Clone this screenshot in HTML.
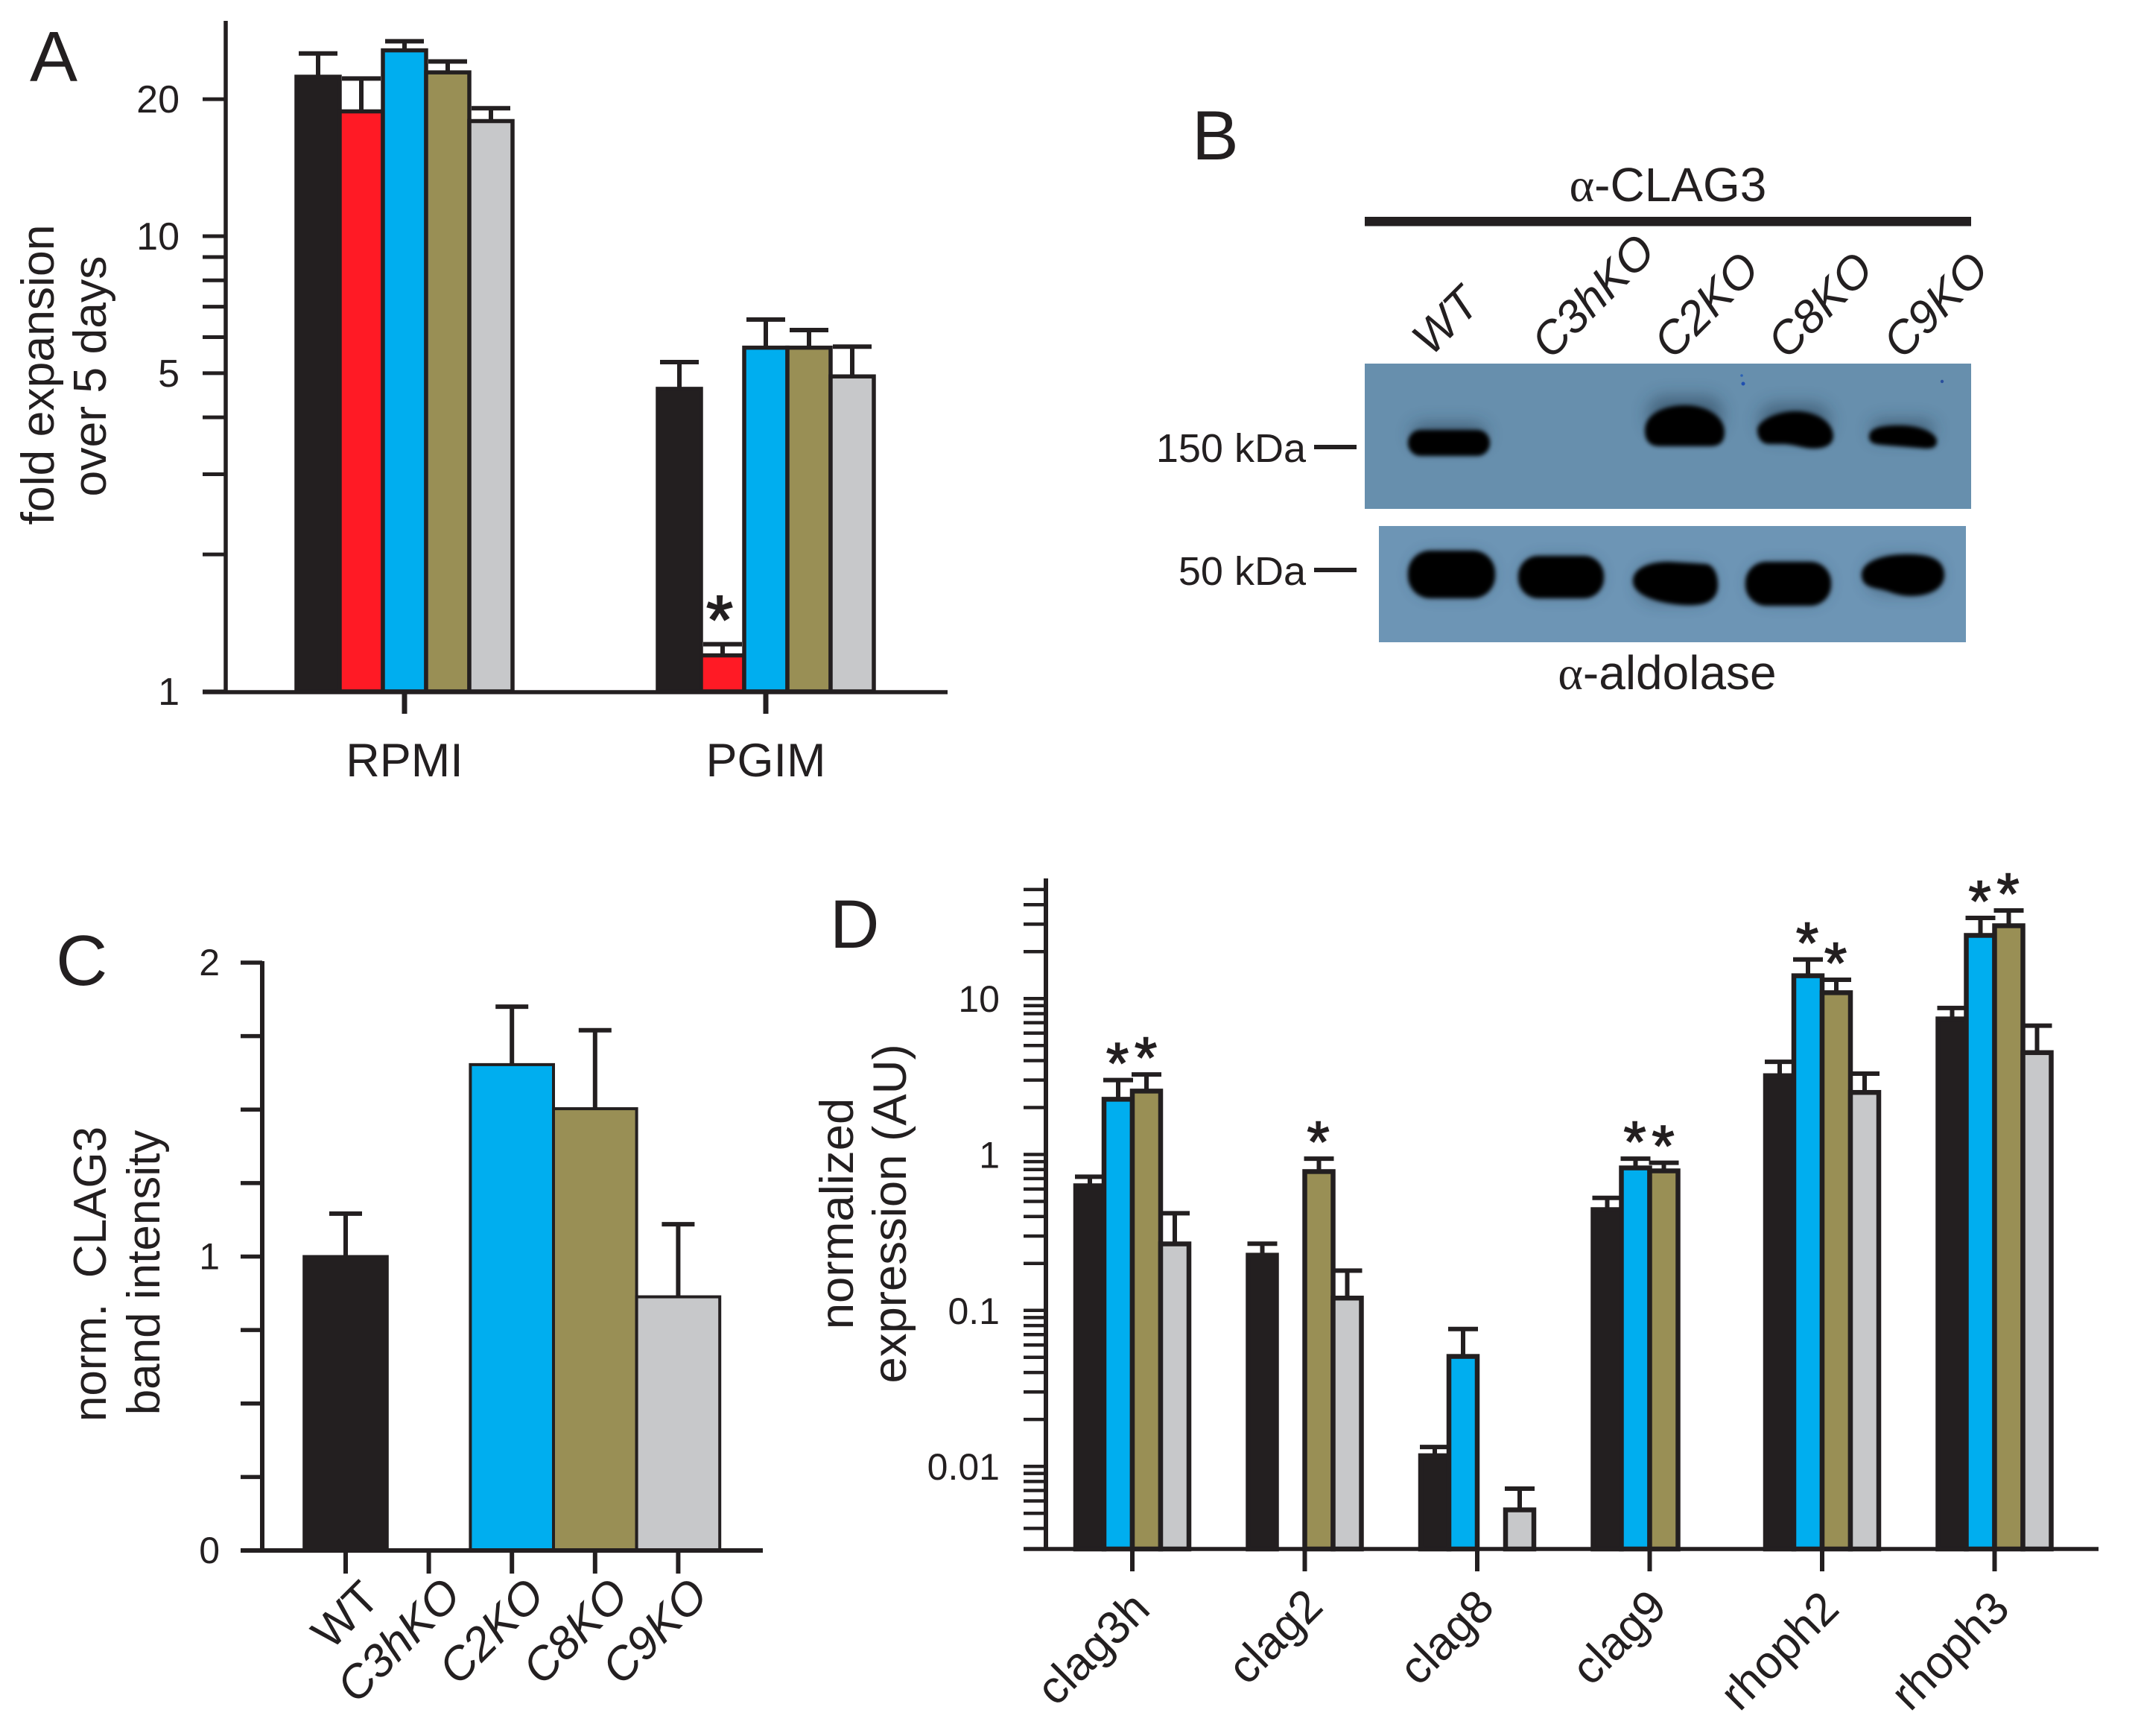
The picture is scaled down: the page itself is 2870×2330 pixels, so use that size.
<!DOCTYPE html>
<html lang="en">
<head>
<meta charset="utf-8">
<title>Four-panel figure: expansion, immunoblot, CLAG3 intensity, expression</title>
<style>
html,body{margin:0;padding:0;background:#fff;}
svg{display:block;}
text{font-family:"Liberation Sans",sans-serif;fill:#231f20;}
</style>
</head>
<body>
<svg id="figure" xmlns="http://www.w3.org/2000/svg" width="2870" height="2330" viewBox="0 0 2870 2330">
<defs>
<filter id="blur-band" x="-30%" y="-50%" width="160%" height="200%"><feGaussianBlur stdDeviation="3"/></filter>
<filter id="blur-halo" x="-40%" y="-90%" width="180%" height="280%"><feGaussianBlur stdDeviation="11"/></filter>
</defs>
<rect x="0" y="0" width="2870" height="2330" fill="#ffffff"/>

<g id="panel-a">
<text x="40" y="109" font-size="96">A</text>
<text transform="translate(72,503) rotate(-90)" text-anchor="middle" font-size="62.5">fold expansion</text>
<text transform="translate(142,505) rotate(-90)" text-anchor="middle" font-size="62.5">over 5 days</text>
</g>

<g id="panel-b">
<text x="1600" y="214" font-size="94">B</text>
<text x="2239" y="270" text-anchor="middle" font-size="64"><tspan font-family="Liberation Serif">α</tspan>-CLAG3</text>
<rect x="1832" y="291" width="814" height="12.5" fill="#231f20"/>
<text transform="translate(1940,430) rotate(-45)" text-anchor="middle" dy=".35em" font-size="62" font-style="italic">WT</text>
<text transform="translate(2138,397) rotate(-45)" text-anchor="middle" dy=".35em" font-size="62" font-style="italic">C3hKO</text>
<text transform="translate(2290,409) rotate(-45)" text-anchor="middle" dy=".35em" font-size="62" font-style="italic">C2KO</text>
<text transform="translate(2443,409) rotate(-45)" text-anchor="middle" dy=".35em" font-size="62" font-style="italic">C8KO</text>
<text transform="translate(2598,409) rotate(-45)" text-anchor="middle" dy=".35em" font-size="62" font-style="italic">C9KO</text>

<g>
<rect x="1832" y="488" width="814" height="195" fill="#678fad"/>
<g fill="#20384c" opacity=".5" filter="url(#blur-halo)">
<rect x="1895" y="568" width="100" height="30" rx="15"/>
<rect x="2212" y="532" width="100" height="50" rx="22"/>
<rect x="2362" y="542" width="94" height="46" rx="22"/>
<rect x="2512" y="564" width="84" height="26" rx="13"/>
</g>
<g fill="#020304" filter="url(#blur-band)">
<rect x="1890" y="577" width="110" height="35" rx="17"/>
<path d="M2208 578C2208 555 2235 544 2262 544C2292 544 2315 560 2315 580C2315 594 2308 599 2295 599L2228 599C2215 599 2208 592 2208 578Z"/>
<path d="M2359 577C2359 565 2385 552 2410 552C2440 552 2461 568 2461 585C2461 597 2450 602 2435 602C2420 602 2412 597 2395 596L2375 596C2365 596 2359 588 2359 577Z"/>
<path d="M2509 586C2509 576 2520 571 2550 571C2580 571 2600 582 2600 592C2600 600 2595 602 2585 602L2525 597C2515 596 2509 594 2509 586Z"/>
</g>
<circle cx="2340" cy="515" r="2.5" fill="#1f4fb0"/>
<circle cx="2338" cy="504" r="1.8" fill="#2c62b5"/>
<circle cx="2607" cy="512" r="2.2" fill="#2a4f9c"/>
</g>

<g>
<rect x="1851" y="706" width="788" height="156" fill="#6d95b5"/>
<g fill="#20384c" opacity=".45" filter="url(#blur-halo)">
<rect x="1896" y="744" width="106" height="54" rx="26"/>
<rect x="2044" y="750" width="104" height="48" rx="24"/>
<rect x="2198" y="758" width="102" height="50" rx="24"/>
<rect x="2349" y="758" width="104" height="50" rx="24"/>
<rect x="2505" y="748" width="100" height="48" rx="24"/>
</g>
<g fill="#020304" filter="url(#blur-band)">
<rect x="1890" y="739" width="117" height="64" rx="30"/>
<rect x="2038" y="746" width="115" height="57" rx="27"/>
<path d="M2192 780C2192 762 2215 754 2240 754L2290 757C2300 758 2306 770 2306 785C2306 802 2295 811 2275 812C2250 814 2192 805 2192 780Z"/>
<rect x="2343" y="754" width="115" height="59" rx="28"/>
<path d="M2499 771C2499 755 2525 744 2560 744C2590 744 2610 750 2610 772C2610 790 2590 800 2565 800C2545 800 2535 792 2520 790C2505 787 2499 782 2499 771Z"/>
</g>
</g>

<text x="1753" y="620" text-anchor="end" font-size="54">150 kDa</text>
<rect x="1764" y="597" width="57" height="6" fill="#231f20"/>
<text x="1753" y="785" text-anchor="end" font-size="54">50 kDa</text>
<rect x="1764" y="762" width="57" height="6" fill="#231f20"/>
<text x="2238" y="925" text-anchor="middle" font-size="64"><tspan font-family="Liberation Serif">α</tspan>-aldolase</text>
</g>

<g id="panel-c">
<text x="75" y="1322" font-size="96">C</text>
<text transform="translate(142,1710) rotate(-90)" text-anchor="middle" font-size="62" xml:space="preserve">norm.  CLAG3</text>
<text transform="translate(214,1708) rotate(-90)" text-anchor="middle" font-size="62">band intensity</text>
</g>

<g id="panel-d">
<text x="1114" y="1272" font-size="92">D</text>
<text transform="translate(1145,1629) rotate(-90)" text-anchor="middle" font-size="63.5">normalized</text>
<text transform="translate(1216,1629) rotate(-90)" text-anchor="middle" font-size="63.5">expression (AU)</text>
</g>
</svg>

<script>
// ---------- Panel A data ----------
const aCategories = ['RPMI', 'PGIM'];
const aStrains = ['wt', 'c3hko', 'c2ko', 'c8ko', 'c9ko'];
const aRpmiValues = [22.4, 18.8, 25.6, 22.9, 17.9];
const aRpmiErrors = [25.2, 22.2, 26.8, 24.2, 19.1];
const aPgimValues = [4.62, 1.20, 5.69, 5.69, 4.92];
const aPgimErrors = [5.29, 1.27, 6.56, 6.22, 5.72];
const aMajorTicks = [1, 5, 10, 20];
const aMinorTicks = [2, 3, 4, 6, 7, 8, 9];
const aStarStrain = 'PGIM-c3hko';

// ---------- Panel C data ----------
const cCategories = ['WT', 'C3hKO', 'C2KO', 'C8KO', 'C9KO'];
const cValues = [1.0, 0, 1.653, 1.503, 0.863];
const cErrors = [1.146, null, 1.85, 1.77, 1.11];
const cMajorTicks = [0, 1, 2];
const cMinorTicks = [0.25, 0.5, 0.75, 1.25, 1.5, 1.75];

// ---------- Panel D data ----------
const dCategories = ['clag3h', 'clag2', 'clag8', 'clag9', 'rhoph2', 'rhoph3'];
const dStrains = ['wt', 'c2ko', 'c8ko', 'c9ko'];
const dWt = [0.63, 0.226, 0.0117, 0.443, 3.2, 7.4];
const dC2 = [2.26, null, 0.0507, 0.82, 14.0, 25.4];
const dC8 = [2.55, 0.777, null, 0.785, 10.9, 29.3];
const dC9 = [0.267, 0.12, 0.00526, null, 2.5, 4.5];
const dWtErr = [0.72, 0.268, 0.0133, 0.527, 3.93, 8.7];
const dC2Err = [3.0, null, 0.076, 0.94, 17.8, 32.9];
const dC8Err = [3.26, 0.94, null, 0.885, 13.2, 36.7];
const dC9Err = [0.42, 0.18, 0.0072, null, 3.3, 6.7];
const dStarsC2 = [true, false, false, true, true, true];
const dStarsC8 = [true, true, false, true, true, true];
const dMajorTicks = [0.01, 0.1, 1, 10];
const dMinorTicks = [0.004, 0.005, 0.006, 0.007, 0.008, 0.009,
  0.02, 0.03, 0.04, 0.05, 0.06, 0.07, 0.08, 0.09,
  0.2, 0.3, 0.4, 0.5, 0.6, 0.7, 0.8, 0.9,
  2, 3, 4, 5, 6, 7, 8, 9,
  20, 30, 40, 50];

const COLORS = {wt: '#231f20', c3hko: '#ff1a25', c2ko: '#00aeef', c8ko: '#998f55', c9ko: '#c7c8ca'};
const INK = '#231f20';
const SVGNS = 'http://www.w3.org/2000/svg';

function make(parent, tag, attrs) {
  const el = document.createElementNS(SVGNS, tag);
  for (const k in attrs) el.setAttribute(k, attrs[k]);
  parent.appendChild(el);
  return el;
}
function line(parent, x1, y1, x2, y2, w) {
  return make(parent, 'line', {x1: x1, y1: y1, x2: x2, y2: y2, stroke: INK, 'stroke-width': w});
}

// Axis functions
const yA = v => 928 - 611 * Math.log10(v);
const xA = i => 543 + 485 * i;
const yC = v => 2081 - 394.5 * v;
const xC = i => 464 + 111.6 * i;
const yD = v => 1549.5 - 209.3 * Math.log10(v);
const xD = i => 1520 + 231.5 * i;

// ---------- Panel A ----------
const panelA = document.getElementById('panel-a');
aCategories.forEach((cat, g) => {
  const vals = g === 0 ? aRpmiValues : aPgimValues;
  const errs = g === 0 ? aRpmiErrors : aPgimErrors;
  aStrains.forEach((s, i) => {
    const cx = xA(g) + (i - 2) * 58;
    const eb = make(panelA, 'path', {d: 'M' + cx + ' ' + yA(vals[i]) + 'V' + yA(errs[i]) + 'm-26 0h52', stroke: INK, 'stroke-width': 6, fill: 'none'});
    
    
  });
  aStrains.forEach((s, i) => {
    const cx = xA(g) + (i - 2) * 58;
    const bar = make(panelA, 'rect', {x: cx - 29, y: yA(vals[i]), width: 58, height: yA(1) - yA(vals[i]), fill: COLORS[s], stroke: INK, 'stroke-width': 5.5});
    
    
    if (cat + '-' + s === aStarStrain) {
      const st = make(panelA, 'text', {x: cx - 4, y: yA(errs[i]) - 1, 'text-anchor': 'middle', 'font-size': 92, stroke: INK, 'stroke-width': 2});
      st.textContent = '*';
      
      
    }
  });
  const tk = line(panelA, xA(g), 928, xA(g), 958, 7);
  
  
  const lb = make(panelA, 'text', {x: xA(g), y: 1042, 'text-anchor': 'middle', 'font-size': 63});
  lb.textContent = cat;
  
  
});
const aAxisY = line(panelA, 303, 28, 303, 931, 5.5);


const aAxisX = line(panelA, 272, 929, 1272, 929, 5.5);


aMajorTicks.concat(aMinorTicks).forEach(v => {
  const t = line(panelA, 272, yA(v), 303, yA(v), 5);
  
  
});
aMajorTicks.forEach(v => {
  const t = make(panelA, 'text', {x: 241, y: yA(v) + 18, 'text-anchor': 'end', 'font-size': 52});
  t.textContent = String(v);
  
  
});

// ---------- Panel C ----------
const panelC = document.getElementById('panel-c');
cCategories.forEach((cat, i) => {
  if (cErrors[i] !== null) {
    const eb = make(panelC, 'path', {d: 'M' + xC(i) + ' ' + yC(cValues[i]) + 'V' + yC(cErrors[i]) + 'm-22 0h44', stroke: INK, 'stroke-width': 6, fill: 'none'});
    
    
  }
});
cCategories.forEach((cat, i) => {
  if (cValues[i] > 0) {
    const bar = make(panelC, 'rect', {x: xC(i) - 55.8, y: yC(cValues[i]), width: 111.6, height: yC(0) - yC(cValues[i]), fill: i === 0 ? COLORS.wt : i === 2 ? COLORS.c2ko : i === 3 ? COLORS.c8ko : COLORS.c9ko, stroke: INK, 'stroke-width': 4});
    
    
  }
  const tk = line(panelC, xC(i), 2081, xC(i), 2112, 6);
  
  
});
const cLabelDx = [-1, -41, -28, -27, -32];
cCategories.forEach((cat, i) => {
  const cx = xC(i) + cLabelDx[i];
  const cy = i === 1 ? 2201 : i === 0 ? 2167 : 2189;
  const lb = make(panelC, 'text', {transform: 'translate(' + cx + ',' + cy + ') rotate(-45)', 'text-anchor': 'middle', dy: '.35em', 'font-size': 62, 'font-style': i === 0 ? 'normal' : 'italic'});
  lb.textContent = cat;
  
  
});
const cAxisY = line(panelC, 352, 1290, 352, 2083, 6);


const cAxisX = line(panelC, 323, 2081, 1024, 2081, 6);


cMajorTicks.concat(cMinorTicks).forEach(v => {
  const t = line(panelC, 323, yC(v), 352, yC(v), 5.5);
  
  
});
cMajorTicks.forEach(v => {
  const t = make(panelC, 'text', {x: 295, y: yC(v) + 17, 'text-anchor': 'end', 'font-size': 50});
  t.textContent = String(v);
  
  
});

// ---------- Panel D ----------
const panelD = document.getElementById('panel-d');
const dSeries = [dWt, dC2, dC8, dC9];
const dSeriesErr = [dWtErr, dC2Err, dC8Err, dC9Err];
const dLabelDx = [-53.5, -40.5, -42, -42, -58, -60.5];
const dLabelY = [2212, 2196, 2197, 2197, 2215, 2215];
dCategories.forEach((cat, g) => {
  dStrains.forEach((s, i) => {
    const v = dSeries[i][g];
    if (v === null) return;
    const cx = xD(g) + (i - 1.5) * 38;
    const eb = make(panelD, 'path', {d: 'M' + cx + ' ' + yD(v) + 'V' + yD(dSeriesErr[i][g]) + 'm-20 0h40', stroke: INK, 'stroke-width': 6, fill: 'none'});
    
    
  });
  dStrains.forEach((s, i) => {
    const v = dSeries[i][g];
    if (v === null) return;
    const cx = xD(g) + (i - 1.5) * 38;
    const bar = make(panelD, 'rect', {x: cx - 19, y: yD(v), width: 38, height: 2079 - yD(v), fill: COLORS[s], stroke: INK, 'stroke-width': 6.5});
    
    
  });
  const tk = line(panelD, xD(g), 2079, xD(g), 2109, 6);
  
  
  const lb = make(panelD, 'text', {transform: 'translate(' + (xD(g) + dLabelDx[g]) + ',' + dLabelY[g] + ') rotate(-45)', 'text-anchor': 'middle', dy: '.35em', 'font-size': 62});
  lb.textContent = cat;
  
  
  [[dStarsC2, dC2Err, 1], [dStarsC8, dC8Err, 2]].forEach(cfg => {
    if (!cfg[0][g] || cfg[1][g] === null) return;
    const cx = xD(g) + (cfg[2] - 1.5) * 38;
    const st = make(panelD, 'text', {x: cx - 1, y: yD(cfg[1][g]) + 4, 'text-anchor': 'middle', 'font-size': 78, stroke: INK, 'stroke-width': 1.5});
    st.textContent = '*';
    
    
  });
});
const dAxisY = line(panelD, 1404, 1179, 1404, 2081, 6);


const dAxisX = line(panelD, 1374, 2079, 2817, 2079, 5.5);


dMajorTicks.concat(dMinorTicks).forEach(v => {
  const t = line(panelD, 1374, yD(v), 1404, yD(v), 4.5);
  
  
});
dMajorTicks.forEach(v => {
  const t = make(panelD, 'text', {x: 1342, y: yD(v) + 18, 'text-anchor': 'end', 'font-size': 50});
  t.textContent = String(v);
  
  
});
</script>
</body>
</html>
